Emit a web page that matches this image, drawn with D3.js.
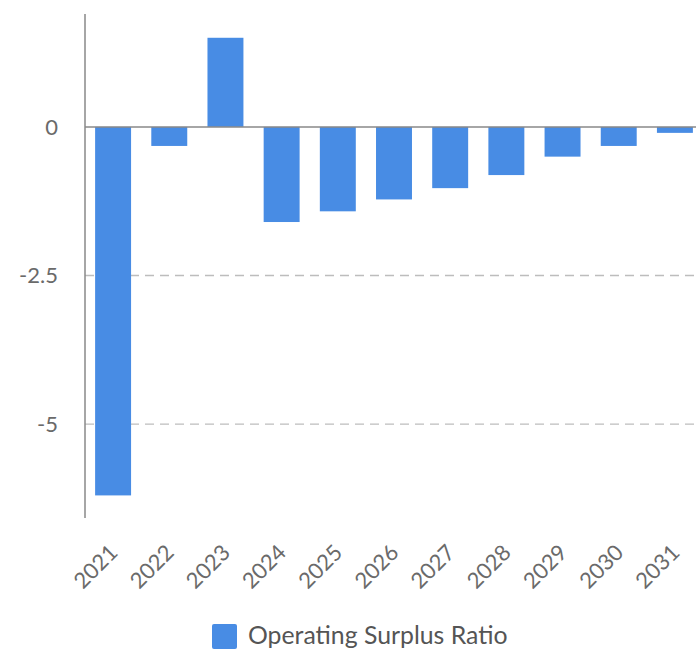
<!DOCTYPE html>
<html>
<head>
<meta charset="utf-8">
<style>
    body { margin: 0; background: #fff; }
    svg { display: block; font-family: Lato, "Open Sans", sans-serif; }
</style>
</head>
<body>
<svg width="696" height="650"></svg>
<script src="https://d3js.org/d3.v7.min.js"></script>
<script>
    //-----------------------------DATA------------------------------//
    let years = ["2021", "2022", "2023", "2024", "2025", "2026", "2027", "2028", "2029", "2030", "2031"];
    let surplusRatio = [-6.2, -0.32, 1.5, -1.6, -1.42, -1.22, -1.03, -0.81, -0.5, -0.32, -0.1];
    let yTicks = [0, -2.5, -5];
    let seriesName = "Operating Surplus Ratio";

    //-----------------------------SVG------------------------------//
    let svg = d3.select("svg");
    let barColor = "#488ce4";

    let x = d3.scaleBand()
        .domain(years)
        .range([85, 703])
        .paddingInner(0.36)
        .paddingOuter(0.18);

    let y = d3.scaleLinear()
        .domain([-6.58, 1.9])
        .range([518, 14]);

    // dashed grid lines
    svg.append("g")
        .selectAll("line")
        .data(yTicks.filter(d => d !== 0))
        .join("line")
        .attr("x1", 85)
        .attr("x2", 696)
        .attr("y1", d => y(d))
        .attr("y2", d => y(d))
        .style("stroke", "#bdbdbd")
        .style("stroke-width", 1.3)
        .style("stroke-dasharray", "9,6");

    // y tick labels
    svg.append("g")
        .selectAll("text")
        .data(yTicks)
        .join("text")
        .attr("x", 58)
        .attr("y", d => y(d))
        .attr("dy", "0.36em")
        .attr("text-anchor", "end")
        .style("font-size", "22px")
        .style("fill", "#6a6a6a")
        .text(d => d);

    // bars
    svg.append("g")
        .selectAll("rect")
        .data(surplusRatio)
        .join("rect")
        .attr("x", (d, i) => x(years[i]))
        .attr("width", x.bandwidth())
        .attr("y", d => y(Math.max(0, d)))
        .attr("height", d => Math.abs(y(d) - y(0)))
        .style("fill", barColor);

    // zero line and y axis line
    svg.append("line")
        .attr("x1", 85).attr("x2", 696)
        .attr("y1", y(0)).attr("y2", y(0))
        .style("stroke", "#888")
        .style("stroke-width", 1.5);

    svg.append("line")
        .attr("x1", 85).attr("x2", 85)
        .attr("y1", 14).attr("y2", 518)
        .style("stroke", "#888")
        .style("stroke-width", 1.5);

    // x labels, rotated
    svg.append("g")
        .selectAll("text")
        .data(years)
        .join("text")
        .attr("transform", d => "translate(" + (x(d) + x.bandwidth() / 2 + 6) + ",554) rotate(-45)")
        .attr("text-anchor", "end")
        .style("font-size", "22px")
        .style("fill", "#6a6a6a")
        .text(d => d);

    // legend
    let legend = svg.append("g");
    legend.append("rect")
        .attr("x", 212).attr("y", 624)
        .attr("width", 25).attr("height", 25)
        .attr("rx", 2)
        .style("fill", barColor);
    legend.append("text")
        .attr("x", 248).attr("y", 644)
        .style("font-size", "24.8px")
        .style("fill", "#555")
        .text(seriesName);
</script>
</body>
</html>
